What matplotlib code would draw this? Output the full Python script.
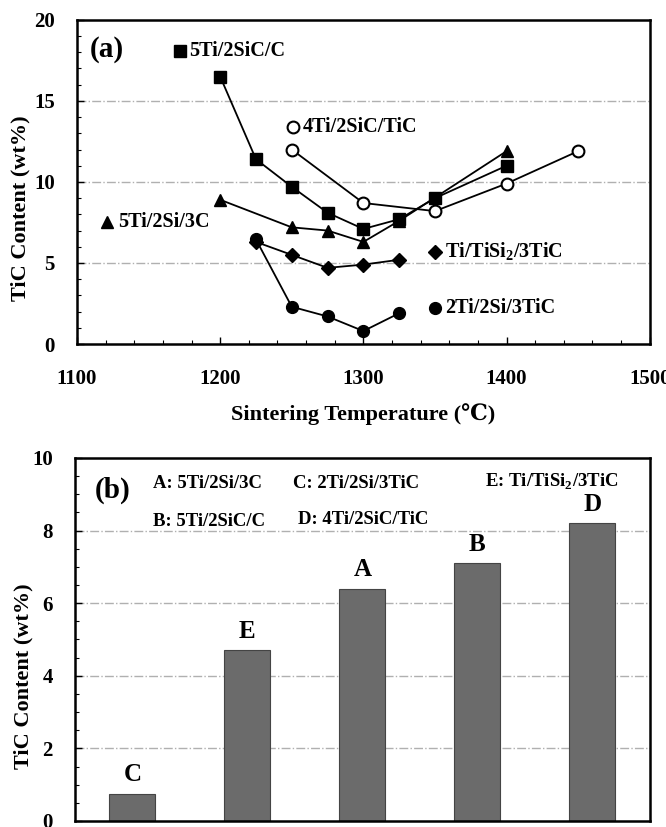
import matplotlib.pyplot as plt
from matplotlib.ticker import MultipleLocator

plt.rcParams['font.family'] = ['Liberation Serif', 'DejaVu Serif']
plt.rcParams['font.weight'] = 'bold'
plt.rcParams['axes.labelweight'] = 'bold'
plt.rcParams['mathtext.fontset'] = 'custom'
plt.rcParams['mathtext.rm'] = 'Liberation Serif:bold'
plt.rcParams['mathtext.bf'] = 'Liberation Serif:bold'

# panel (a): TiC content vs sintering temperature
t_5ti2sicc = [1200, 1225, 1250, 1275, 1300, 1325, 1350, 1400]
v_5ti2sicc = [16.5, 11.4, 9.7, 8.1, 7.1, 7.7, 9.0, 11.0]
t_4ti2sictic = [1250, 1300, 1350, 1400, 1450]
v_4ti2sictic = [12.0, 8.7, 8.2, 9.9, 11.9]
t_5ti2si3c = [1200, 1250, 1275, 1300, 1325, 1400]
v_5ti2si3c = [8.9, 7.2, 7.0, 6.3, 7.6, 11.9]
t_titisi2 = [1225, 1250, 1275, 1300, 1325]
v_titisi2 = [6.3, 5.5, 4.7, 4.9, 5.2]
t_2ti2si3tic = [1225, 1250, 1275, 1300, 1325]
v_2ti2si3tic = [6.45, 2.3, 1.7, 0.8, 1.9]

# panel (b): minimum TiC content per composition
bar_labels = ['C', 'E', 'A', 'B', 'D']
bar_values = [0.75, 4.7, 6.4, 7.1, 8.2]

fig = plt.figure(figsize=(6.66, 8.27), dpi=100)
ax1 = fig.add_axes([0.1156, 0.584, 0.860, 0.392])
ax2 = fig.add_axes([0.1126, 0.0073, 0.863, 0.439])

grid_kw = dict(color='#b0b0b0', linestyle='-.', linewidth=1.0)
sub2 = '$_{2}$'

# ---- (a) ----
for y in [5, 10, 15]:
    ax1.axhline(y, zorder=0, **grid_kw)
line_kw = dict(color='black', linewidth=1.3, markersize=8.5)
ax1.plot(t_5ti2sicc, v_5ti2sicc, marker='s', **line_kw)
ax1.plot(t_4ti2sictic, v_4ti2sictic, marker='o', markerfacecolor='white',
         markeredgewidth=1.5, **line_kw)
ax1.plot(t_5ti2si3c, v_5ti2si3c, marker='^', **line_kw)
ax1.plot(t_titisi2, v_titisi2, marker='D', markersize=7, color='black', linewidth=1.3)
ax1.plot(t_2ti2si3tic, v_2ti2si3tic, marker='o', **line_kw)

# in-plot legend entries
lab_fs = 14.5
ax1.plot([1172], [18.1], 's', color='black', markersize=8.5)
ax1.text(1178, 18.1, '5Ti/2SiC/C', fontsize=lab_fs, va='center')
ax1.plot([1251], [13.4], 'o', color='black', markerfacecolor='white',
         markeredgewidth=1.5, markersize=8.5)
ax1.text(1258, 13.4, '4Ti/2SiC/TiC', fontsize=lab_fs, va='center')
ax1.plot([1121], [7.5], '^', color='black', markersize=8.5)
ax1.text(1129, 7.5, '5Ti/2Si/3C', fontsize=lab_fs, va='center')
ax1.plot([1350], [5.7], 'D', color='black', markersize=7)
ax1.text(1357, 5.7, 'Ti/TiSi' + sub2 + '/3TiC', fontsize=lab_fs, va='center')
ax1.plot([1350], [2.2], 'o', color='black', markersize=8.5)
ax1.text(1357, 2.2, '2Ti/2Si/3TiC', fontsize=lab_fs, va='center')
ax1.text(1109, 18.2, '(a)', fontsize=21, va='center')

ax1.set_xlim(1100, 1500)
ax1.set_ylim(0, 20)
ax1.xaxis.set_major_locator(MultipleLocator(100))
ax1.xaxis.set_minor_locator(MultipleLocator(20))
ax1.yaxis.set_major_locator(MultipleLocator(5))
ax1.yaxis.set_minor_locator(MultipleLocator(1))
ax1.set_xlabel('Sintering Temperature (\u2103)', fontsize=16, labelpad=10)
ax1.set_ylabel('TiC Content (wt%)', fontsize=16)
ax1.yaxis.set_label_coords(-0.082, 0.42)

# ---- (b) ----
for y in [2, 4, 6, 8]:
    ax2.axhline(y, zorder=0, **grid_kw)
xpos = list(range(len(bar_labels)))
bars = ax2.bar(xpos, bar_values, width=0.4, color='#6b6b6b',
               edgecolor='#444444', linewidth=0.8, zorder=2)
for b, lab in zip(bars, bar_labels):
    ax2.text(b.get_x() + b.get_width() / 2, b.get_height() + 0.2, lab,
             ha='center', va='bottom', fontsize=18)
ax2.text(-0.33, 9.1, '(b)', fontsize=21, va='center')
leg_fs = 13.5
ax2.text(0.18, 9.3, 'A: 5Ti/2Si/3C', fontsize=leg_fs, va='center')
ax2.text(1.40, 9.3, 'C: 2Ti/2Si/3TiC', fontsize=leg_fs, va='center')
ax2.text(3.07, 9.35, 'E: Ti/TiSi' + sub2 + '/3TiC', fontsize=leg_fs, va='center')
ax2.text(0.18, 8.25, 'B: 5Ti/2SiC/C', fontsize=leg_fs, va='center')
ax2.text(1.44, 8.3, 'D: 4Ti/2SiC/TiC', fontsize=leg_fs, va='center')

ax2.set_xlim(-0.5, 4.5)
ax2.set_ylim(0, 10)
ax2.set_xticks([])
ax2.yaxis.set_major_locator(MultipleLocator(2))
ax2.yaxis.set_minor_locator(MultipleLocator(0.5))
ax2.set_ylabel('TiC Content (wt%)', fontsize=16)
ax2.yaxis.set_label_coords(-0.072, 0.4)

for ax in (ax1, ax2):
    for s in ax.spines.values():
        s.set_linewidth(1.8)
    ax.tick_params(which='both', direction='in', labelsize=15)
    ax.tick_params(which='major', length=5, width=1)
    ax.tick_params(which='minor', length=3, width=0.8)
    ax.tick_params(axis='x', pad=18)
    ax.tick_params(axis='y', pad=16)

plt.savefig('out.png', dpi=100)
